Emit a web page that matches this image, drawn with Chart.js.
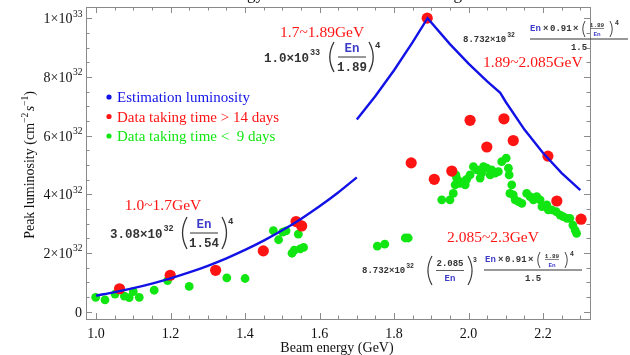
<!DOCTYPE html>
<html>
<head>
<meta charset="utf-8">
<script src="https://cdn.jsdelivr.net/npm/chart.js@4.4.0/dist/chart.umd.min.js"></script>
<style>
  html, body { margin: 0; padding: 0; background: #fff; }
</style>
</head>
<body>
<canvas id="c" width="630" height="355"></canvas>
<script>
// luminosity values in units of 1e32 cm^-2 s^-1, energy in GeV

// estimation curve, 1.0 ~ 1.7 GeV
const fitEnergyLow = [1.0, 1.05, 1.1, 1.15, 1.2, 1.25, 1.3, 1.35, 1.4, 1.45, 1.5, 1.55, 1.6, 1.65, 1.7];
const fitLumiLow = [0.548, 0.666, 0.802, 0.958, 1.136, 1.337, 1.564, 1.819, 2.104, 2.421, 2.772, 3.161, 3.589, 4.059, 4.574];

// estimation curve, 1.7 ~ 2.3 GeV
const fitEnergyHigh = [1.7, 1.75, 1.8, 1.85, 1.89, 1.95, 2.0, 2.05, 2.085, 2.1, 2.15, 2.2, 2.25, 2.3];
const fitLumiHigh = [6.546, 7.350, 8.227, 9.180, 10.0, 9.116, 8.449, 7.846, 7.457, 7.144, 6.203, 5.404, 4.722, 4.139];

// data taking time > 14 days
const longEnergy = [1.063, 1.199, 1.321, 1.449, 1.537, 1.552, 1.846, 1.889, 1.908, 1.955, 2.004, 2.049, 2.095, 2.120, 2.213, 2.237, 2.302];
const longLumi = [0.78, 1.24, 1.41, 2.07, 3.07, 2.92, 5.07, 10.0, 4.51, 4.79, 6.52, 5.61, 6.57, 5.83, 5.30, 3.77, 3.15];

// data taking time < 9 days
const shortEnergy = [0.999, 1.024, 1.051, 1.076, 1.089, 1.100, 1.116, 1.156, 1.192, 1.250, 1.351, 1.400,
  1.476, 1.490, 1.501, 1.510, 1.526, 1.532, 1.543, 1.548, 1.557, 1.755, 1.775, 1.830, 1.838,
  1.928, 1.950, 1.959, 1.964, 1.968, 1.966, 1.977, 1.986, 1.991, 1.995, 2.004, 2.013, 2.022, 2.031,
  2.035, 2.040, 2.049, 2.058, 2.062, 2.071, 2.080, 2.089, 2.101, 2.107, 2.109, 2.116, 2.111, 2.120,
  2.125, 2.134, 2.143, 2.156, 2.165, 2.174, 2.183, 2.192, 2.197, 2.210, 2.214, 2.223, 2.235, 2.246,
  2.254, 2.264, 2.272, 2.280, 2.286, 2.290];
const shortLumi = [0.49, 0.40, 0.60, 0.53, 0.48, 0.68, 0.49, 0.73, 1.06, 0.86, 1.15, 1.13,
  2.76, 2.45, 2.71, 2.75, 1.99, 2.10, 2.64, 2.14, 2.19, 2.23, 2.30, 2.51, 2.51,
  3.81, 3.81, 4.03, 4.32, 4.55, 4.66, 4.37, 4.43, 4.32, 4.51, 4.66, 4.94, 4.83, 4.55,
  4.72, 4.94, 4.89, 4.66, 4.83, 4.72, 4.77, 5.11, 5.23, 4.89, 4.66, 4.32, 4.03, 3.98,
  3.81, 3.75, 3.69, 4.03, 3.92, 3.81, 3.92, 3.81, 3.58, 3.64, 3.47, 3.47, 3.41, 3.29,
  3.24, 3.18, 3.18, 2.95, 2.78, 2.67];

// axis ticks
const xTickValues = [1.0, 1.2, 1.4, 1.6, 1.8, 2.0, 2.2];
const xTickLabels = ['1.0', '1.2', '1.4', '1.6', '1.8', '2.0', '2.2'];
const yTickValues = [0, 2, 4, 6, 8, 10];
const yTickLabels = [['0', ''], ['2×10', '32'], ['4×10', '32'], ['6×10', '32'], ['8×10', '32'], ['1×10', '33']];

const BLUE = '#1212e6', RED = '#ff1414', GREEN = '#12e612', DARK = '#333333', EN_BLUE = '#3c3cc8';
const SERIF = '"Liberation Serif", "Times New Roman", serif';
const mono = (s) => `bold ${s}px "Liberation Mono", "DejaVu Sans Mono", monospace`;
const serif = (s, style = '') => `${style} ${s}px ${SERIF}`;

const pts = (xs, ys) => xs.map((x, i) => ({ x: x, y: ys[i] }));

function txt(ctx, s, x, y, font, color, align = 'left') {
  ctx.font = font;
  ctx.fillStyle = color;
  ctx.textAlign = align;
  ctx.textBaseline = 'alphabetic';
  ctx.fillText(s, x, y);
  return ctx.measureText(s).width;
}

function paren(ctx, x, y0, y1, open, lw = 1.2) {
  const b = (y1 - y0) * 0.28 * (open ? -1 : 1);
  ctx.beginPath();
  ctx.moveTo(x, y0);
  ctx.quadraticCurveTo(x + b, (y0 + y1) / 2, x, y1);
  ctx.strokeStyle = DARK;
  ctx.lineWidth = lw;
  ctx.stroke();
}

function hline(ctx, x0, x1, y, lw = 1) {
  ctx.beginPath();
  ctx.moveTo(x0, y);
  ctx.lineTo(x1, y);
  ctx.strokeStyle = DARK;
  ctx.lineWidth = lw;
  ctx.stroke();
}

// "En x 0.91 x (1.89/En)^4", x0 = left edge, b = baseline
function numerator(ctx, x0, b) {
  const f = mono(9), tiny = mono(6);
  txt(ctx, 'En', x0, b, f, EN_BLUE);
  txt(ctx, '×', x0 + 13, b, f, DARK);
  txt(ctx, '0.91', x0 + 20, b, f, DARK);
  txt(ctx, '×', x0 + 43, b, f, DARK);
  paren(ctx, x0 + 55, b - 10, b + 6, true, 0.9);
  txt(ctx, '1.89', x0 + 67, b - 4, tiny, DARK, 'center');
  hline(ctx, x0 + 60, x0 + 74, b - 2.5, 0.6);
  txt(ctx, 'En', x0 + 67, b + 4.5, tiny, EN_BLUE, 'center');
  paren(ctx, x0 + 80, b - 10, b + 6, false, 0.9);
  txt(ctx, '4', x0 + 85, b - 6, mono(6.5), DARK);
}

const decorations = {
  id: 'decorations',
  afterDraw(chart) {
    const ctx = chart.ctx, a = chart.chartArea;
    const xs = chart.scales.x, ys = chart.scales.y;
    ctx.save();

    // frame with inward ticks
    ctx.strokeStyle = '#8a8a8a';
    ctx.lineWidth = 1;
    ctx.strokeRect(Math.round(a.left) + 0.5, Math.round(a.top) + 0.5, Math.round(a.right - a.left), Math.round(a.bottom - a.top));
    ctx.beginPath();
    for (let k = 19; k <= 47; k++) {
      const v = k * 0.05;
      if (v < xs.min || v > xs.max) continue;
      const px = Math.round(xs.getPixelForValue(v)) + 0.5;
      const len = k % 4 === 0 ? 6 : 3.5;
      ctx.moveTo(px, a.bottom); ctx.lineTo(px, a.bottom - len);
      ctx.moveTo(px, a.top); ctx.lineTo(px, a.top + len);
    }
    for (let k = 0; k <= 20; k++) {
      const v = k * 0.5;
      if (v < ys.min || v > ys.max) continue;
      const py = Math.round(ys.getPixelForValue(v)) + 0.5;
      const len = k % 4 === 0 ? 6 : 3.5;
      ctx.moveTo(a.left, py); ctx.lineTo(a.left + len, py);
      ctx.moveTo(a.right, py); ctx.lineTo(a.right - len, py);
    }
    ctx.stroke();

    // tick labels
    xTickValues.forEach((v, i) => {
      txt(ctx, xTickLabels[i], xs.getPixelForValue(v), 338, serif(14), '#111', 'center');
    });
    yTickValues.forEach((v, i) => {
      const py = ys.getPixelForValue(v);
      const [main, sup] = yTickLabels[i];
      ctx.font = serif(14);
      const wm = ctx.measureText(main).width;
      ctx.font = serif(9.5);
      const ws = ctx.measureText(sup).width;
      const x0 = 82 - wm - ws;
      txt(ctx, main, x0, py + 5, serif(14), '#111');
      if (sup) txt(ctx, sup, x0 + wm + 0.5, py - 1.5, serif(9.5), '#111');
    });

    // axis titles
    txt(ctx, 'Beam energy (GeV)', 337, 352, serif(14), '#111', 'center');
    ctx.save();
    ctx.translate(33.5, 165);
    ctx.rotate(-Math.PI / 2);
    const runs = [
      ['Peak luminosity (cm', serif(14), 0],
      ['−2', serif(9.5), -6],
      ['s', serif(14, 'italic'), 0],
      ['−1', serif(9.5), -6],
      [')', serif(14), 0]
    ];
    let total = 0;
    runs.forEach(r => { ctx.font = r[1]; total += ctx.measureText(r[0]).width + (r[0] === 's' ? 1.5 : 0); });
    let cx = -total / 2;
    runs.forEach(r => {
      if (r[0] === 's') cx += 1.5;
      cx += txt(ctx, r[0], cx, r[2], r[1], '#111');
    });
    ctx.restore();

    // title (cut off at the top edge)
    txt(ctx, 'energy', 264, -1, serif(17), '#111', 'right');
    txt(ctx, 'during', 462, -1, serif(17), '#111', 'right');

    // legend
    const legend = [['Estimation luminosity', BLUE], ['Data taking time > 14 days', RED], ['Data taking time <  9 days', GREEN]];
    legend.forEach((l, i) => {
      const y = 97 + i * 19.5;
      ctx.beginPath();
      ctx.arc(109, y, 2.6, 0, Math.PI * 2);
      ctx.fillStyle = l[1];
      ctx.fill();
      txt(ctx, l[0], 117, y + 5, serif(15), l[1]);
    });

    // energy range labels
    txt(ctx, '1.0~1.7GeV', 163, 210, serif(15.5), RED, 'center');
    txt(ctx, '1.7~1.89GeV', 280, 37, serif(15.5), RED);
    txt(ctx, '1.89~2.085GeV', 483, 67, serif(15.5), RED);
    txt(ctx, '2.085~2.3GeV', 447, 242, serif(15.5), RED);

    // 3.08x10^32 (En/1.54)^4
    let w = txt(ctx, '3.08×10', 110, 237.5, mono(12.5), DARK);
    txt(ctx, '32', 110 + w + 1, 231, mono(8.5), DARK);
    paren(ctx, 187, 217, 249, true, 1.3);
    txt(ctx, 'En', 204, 227.5, mono(12.5), EN_BLUE, 'center');
    hline(ctx, 190, 218, 233);
    txt(ctx, '1.54', 204, 246.5, mono(12.5), DARK, 'center');
    paren(ctx, 222, 217, 249, false, 1.3);
    txt(ctx, '4', 228, 224, mono(9), DARK);

    // 1.0x10^33 (En/1.89)^4
    w = txt(ctx, '1.0×10', 264, 61.5, mono(12.5), DARK);
    txt(ctx, '33', 264 + w + 1, 55, mono(8.5), DARK);
    paren(ctx, 334, 42, 72, true, 1.3);
    txt(ctx, 'En', 352, 51.5, mono(12.5), EN_BLUE, 'center');
    hline(ctx, 338, 366, 57);
    txt(ctx, '1.89', 352, 70.5, mono(12.5), DARK, 'center');
    paren(ctx, 369, 42, 72, false, 1.3);
    txt(ctx, '4', 375, 48, mono(9), DARK);

    // 8.732x10^32 [En x 0.91 x (1.89/En)^4] / 1.5
    w = txt(ctx, '8.732×10', 463, 42, mono(9), DARK);
    txt(ctx, '32', 463 + w + 1, 37, mono(6.5), DARK);
    numerator(ctx, 530, 31);
    hline(ctx, 530, 628, 39);
    txt(ctx, '1.5', 579, 50, mono(9), DARK, 'center');

    // 8.732x10^32 (2.085/En)^3 [En x 0.91 x (1.89/En)^4] / 1.5
    w = txt(ctx, '8.732×10', 362, 273, mono(9), DARK);
    txt(ctx, '32', 362 + w + 1, 268, mono(6.5), DARK);
    paren(ctx, 432, 256, 285, true, 1.1);
    txt(ctx, '2.085', 450, 266, mono(9), DARK, 'center');
    hline(ctx, 436, 464, 270.5, 0.8);
    txt(ctx, 'En', 450, 281, mono(9), EN_BLUE, 'center');
    paren(ctx, 468, 256, 285, false, 1.1);
    txt(ctx, '3', 473, 262, mono(6.5), DARK);
    numerator(ctx, 485, 262);
    hline(ctx, 484, 582, 270);
    txt(ctx, '1.5', 533, 281, mono(9), DARK, 'center');

    ctx.restore();
  }
};

new Chart(document.getElementById('c'), {
  type: 'scatter',
  data: {
    datasets: [
      {
        data: pts(fitEnergyLow, fitLumiLow),
        showLine: true, borderColor: BLUE, borderWidth: 2.4, pointRadius: 0, tension: 0.3
      },
      {
        data: pts(fitEnergyHigh, fitLumiHigh),
        showLine: true, borderColor: BLUE, borderWidth: 2.4, pointRadius: 0, tension: 0
      },
      {
        data: pts(longEnergy, longLumi),
        backgroundColor: RED, borderWidth: 0, pointRadius: 5.6
      },
      {
        data: pts(shortEnergy, shortLumi),
        backgroundColor: GREEN, borderWidth: 0, pointRadius: 4.4
      }
    ]
  },
  options: {
    responsive: false,
    animation: false,
    layout: { padding: { left: 86, right: 40, top: 7, bottom: 36 } },
    scales: {
      x: { type: 'linear', min: 0.973, max: 2.326, display: false },
      y: { type: 'linear', min: -0.25, max: 10.38, display: false }
    },
    plugins: { legend: { display: false }, tooltip: { enabled: false } },
    clip: false
  },
  plugins: [decorations]
});
</script>
</body>
</html>
